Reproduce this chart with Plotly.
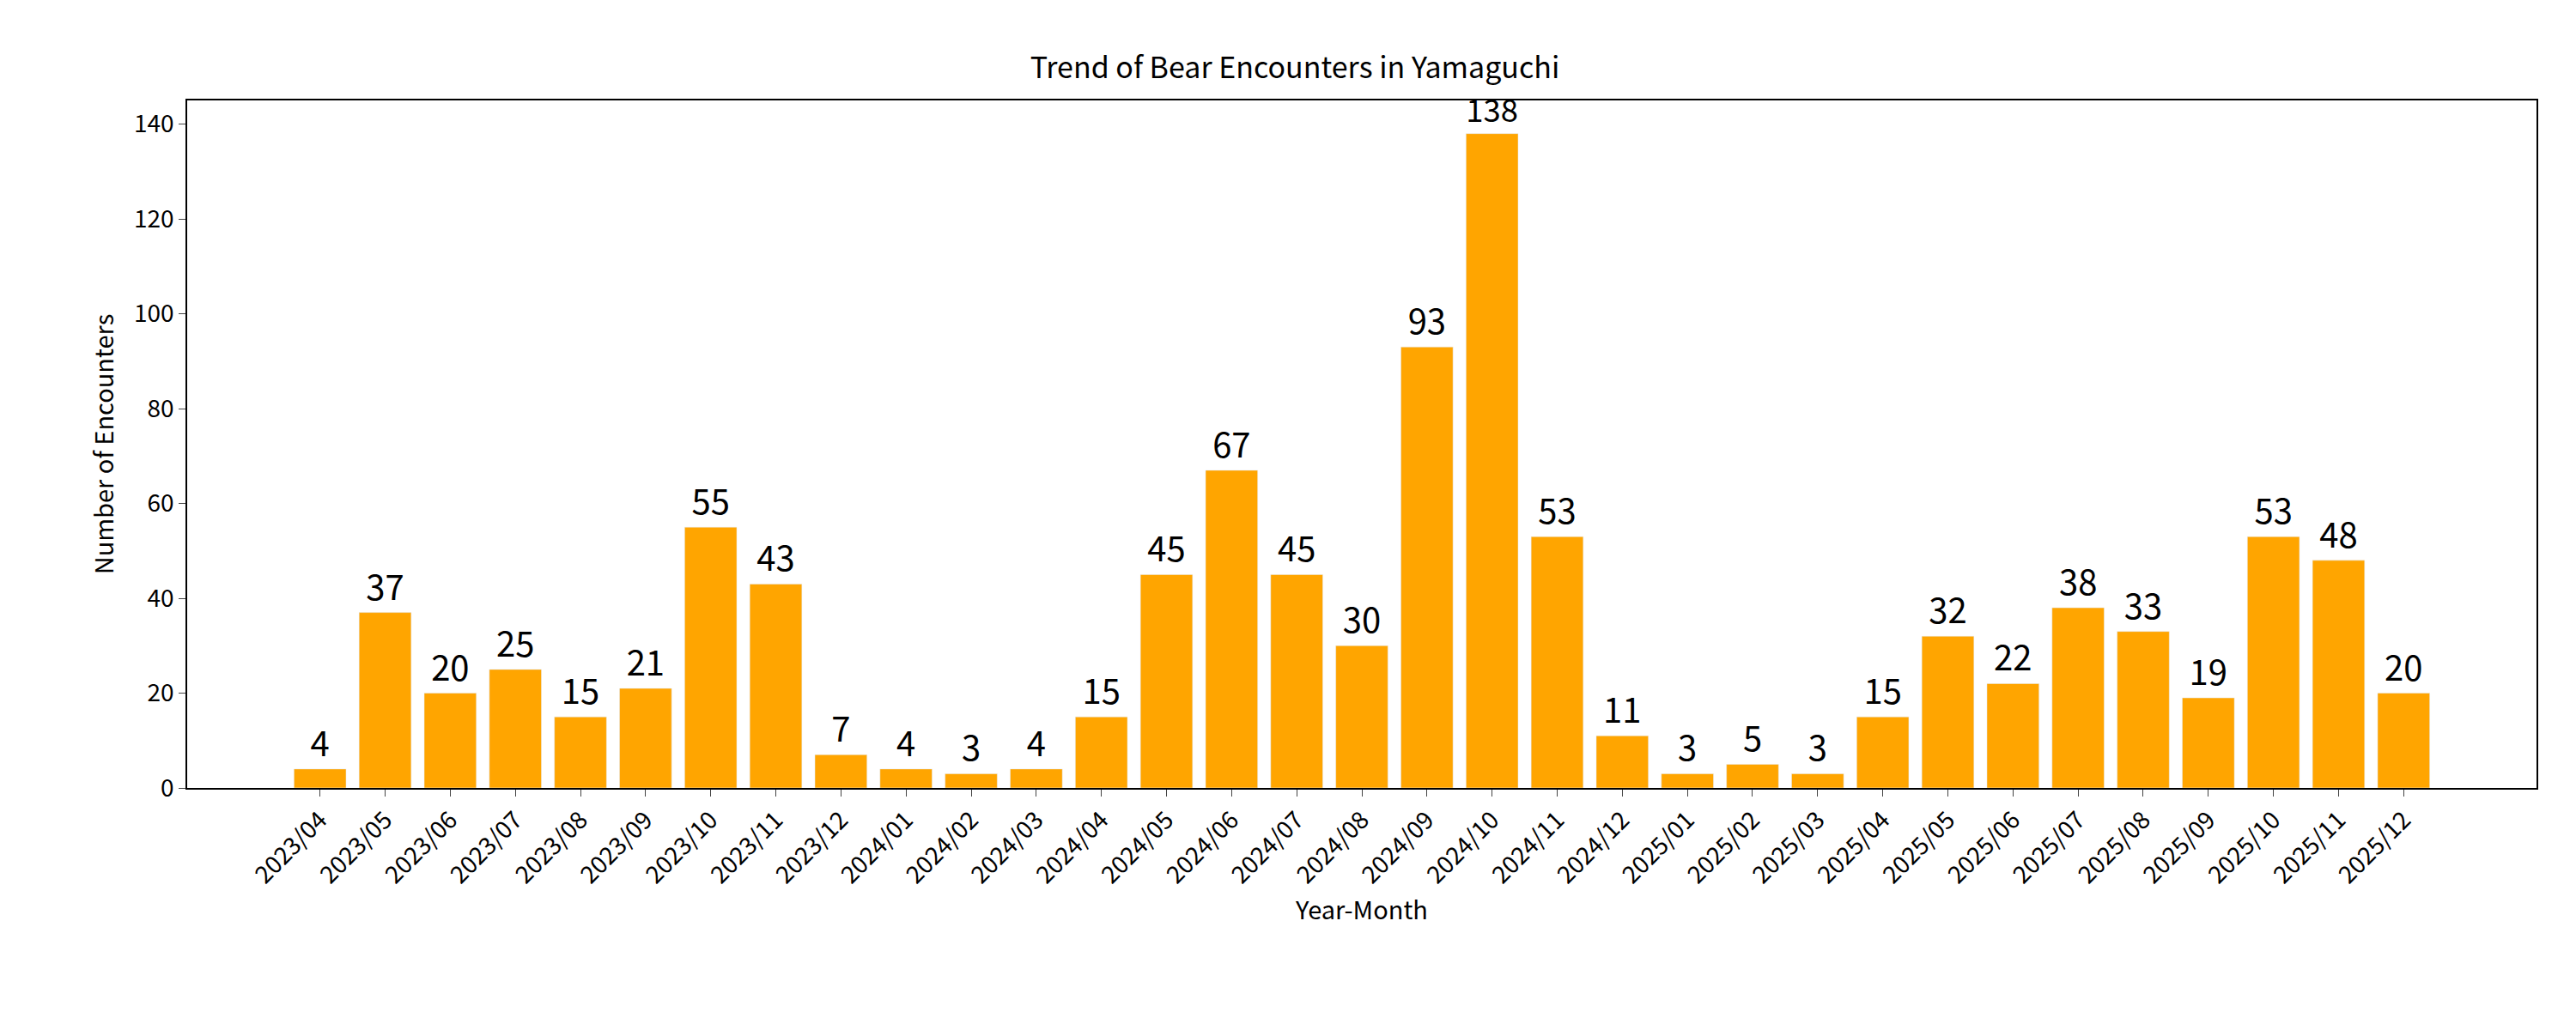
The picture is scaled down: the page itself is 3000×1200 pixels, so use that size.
import plotly.graph_objects as go

months = [
    "2023/04", "2023/05", "2023/06", "2023/07", "2023/08", "2023/09", "2023/10", "2023/11", "2023/12",
    "2024/01", "2024/02", "2024/03", "2024/04", "2024/05", "2024/06", "2024/07", "2024/08", "2024/09",
    "2024/10", "2024/11", "2024/12", "2025/01", "2025/02", "2025/03", "2025/04", "2025/05", "2025/06",
    "2025/07", "2025/08", "2025/09", "2025/10", "2025/11", "2025/12",
]
counts = [4, 37, 20, 25, 15, 21, 55, 43, 7, 4, 3, 4, 15, 45, 67, 45, 30, 93,
          138, 53, 11, 3, 5, 3, 15, 32, 22, 38, 33, 19, 53, 48, 20]

font = "Noto Sans CJK JP"

fig = go.Figure(go.Bar(
    x=list(range(len(months))),
    y=counts,
    width=0.8,
    marker_color="#FFA500",
    text=[str(c) for c in counts],
    textposition="outside",
    textfont=dict(size=40, color="black", family=font),
    cliponaxis=False,
))

fig.update_layout(
    width=3000, height=1200,
    paper_bgcolor="white", plot_bgcolor="white",
    margin=dict(l=210, r=54, t=109, b=290),
    font=dict(family=font, color="black", size=28),
    title=dict(text="Trend of Bear Encounters in Yamaguchi", x=0.5, xanchor="center",
               y=1 - 71 / 1200, yanchor="middle", font=dict(size=34)),
    showlegend=False,
)
fig.update_xaxes(
    range=[-2.04, 34.04], tickmode="array", tickvals=list(range(len(months))), ticktext=months,
    tickangle=-45, ticks="outside", ticklen=8, showgrid=False, zeroline=False,
    showline=True, linecolor="black", mirror=True, linewidth=1.5,
    title=dict(text="Year-Month", font=dict(size=29), standoff=8),
)
fig.update_yaxes(
    range=[0, 145], dtick=20, ticks="outside", ticklen=8, showgrid=False, zeroline=False,
    showline=True, linecolor="black", mirror=True, linewidth=1.5,
    title=dict(text="Number of Encounters", font=dict(size=29)),
)

fig.write_html("out.html")
